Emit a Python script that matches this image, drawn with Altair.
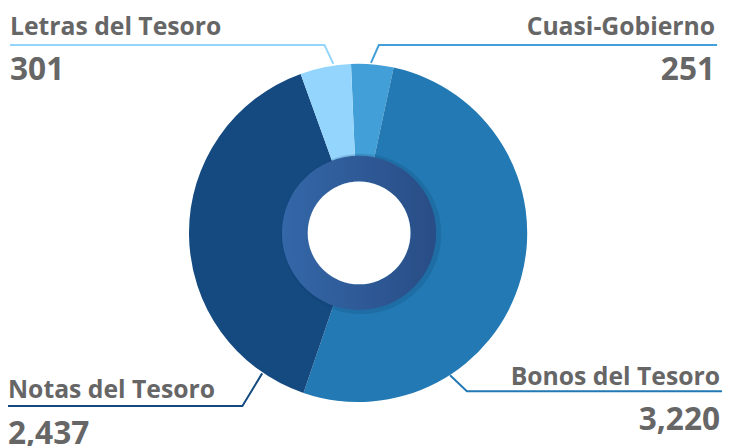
import math
import altair as alt
import pandas as pd

# ---- data ----
categories = ["Cuasi-Gobierno", "Bonos del Tesoro", "Notas del Tesoro", "Letras del Tesoro"]
values = [251, 3220, 2437, 301]
value_labels = ["251", "3,220", "2,437", "301"]
colors = ["#429fd7", "#2279b3", "#144a80", "#93d5fd"]

W, H = 725, 438
CX, CY = 354, 225
R_OUT = 171
START = -0.042

pie_df = pd.DataFrame({"cat": categories, "value": values, "order": list(range(len(values)))})

color_scale = alt.Scale(domain=categories, range=colors)

pie = alt.Chart(pie_df).mark_arc(outerRadius=R_OUT, innerRadius=0, stroke=None).encode(
    theta=alt.Theta("value:Q", stack=True, scale=alt.Scale(range=[START, START + 2 * math.pi])),
    color=alt.Color("cat:N", scale=color_scale, legend=None),
    order=alt.Order("order:Q"),
    x=alt.value(CX),
    y=alt.value(CY),
)

ring_df = pd.DataFrame({"k": [1]})
shadow = alt.Chart(ring_df).mark_arc(
    innerRadius=0, outerRadius=81, theta=0, theta2=2 * math.pi, fill="#0e3d6a", opacity=0.18
).encode(x=alt.value(CX + 3), y=alt.value(CY + 1))
ring = alt.Chart(ring_df).mark_arc(
    innerRadius=52, outerRadius=78, theta=0, theta2=2 * math.pi,
    fill=alt.Gradient(
        gradient="linear",
        stops=[alt.GradientStop(color="#3467a8", offset=0), alt.GradientStop(color="#294d86", offset=1)],
        x1=0, x2=1, y1=0, y2=0,
    ),
).encode(x=alt.value(CX + 1), y=alt.value(CY))
hole = alt.Chart(ring_df).mark_arc(
    innerRadius=0, outerRadius=52, theta=0, theta2=2 * math.pi, fill="#ffffff"
).encode(x=alt.value(CX + 1), y=alt.value(CY))

# ---- annotation layout (page coordinates minus 8px margin) ----
lines_df = pd.DataFrame({
    "cat": ["Letras del Tesoro"] * 3 + ["Cuasi-Gobierno"] * 3 + ["Notas del Tesoro"] * 3 + ["Bonos del Tesoro"] * 3,
    "i": [0, 1, 2] * 4,
    "px": [2, 320, 329, 717, 375, 367, 0, 237, 257, 722, 464, 447],
    "py": [35, 35, 54, 35, 35, 53, 400, 400, 367, 385, 385, 369],
})
xs = alt.Scale(domain=[0, W], range=[0, W])
ys = alt.Scale(domain=[0, H], range=[0, H])

leaders = alt.Chart(lines_df).mark_line(strokeWidth=2).encode(
    x=alt.X("px:Q", scale=xs, axis=None),
    y=alt.Y("py:Q", scale=ys, axis=None),
    color=alt.Color("cat:N", scale=color_scale, legend=None),
    detail="cat:N",
    order="i:Q",
)

lab_df = pd.DataFrame({
    "name": categories,
    "val": value_labels,
    "lx": [715, 720, 0, 2],
    "ly_name": [25, 379, 392, 25],
    "ly_val": [70, 424, 438, 70],
    "align": ["right", "right", "left", "left"],
})

def text_layer(field, yfield, size, align):
    return alt.Chart(lab_df).transform_filter(alt.datum.align == align).mark_text(
        font="Open Sans", fontWeight="bold", fontSize=size, color="#666666",
        align=align, baseline="alphabetic",
    ).encode(
        x=alt.X("lx:Q", scale=xs, axis=None),
        y=alt.Y(f"{yfield}:Q", scale=ys, axis=None),
        text=f"{field}:N",
    )

texts = [
    text_layer("name", "ly_name", 25, "left"),
    text_layer("name", "ly_name", 25, "right"),
    text_layer("val", "ly_val", 32, "left"),
    text_layer("val", "ly_val", 32, "right"),
]

chart = alt.layer(pie, shadow, ring, hole, leaders, *texts).properties(
    width=W, height=H, padding=0, autosize=alt.AutoSizeParams(type="none"),
).configure_view(stroke=None)

chart.save("out.html", embed_options={"renderer": "svg", "actions": False})
